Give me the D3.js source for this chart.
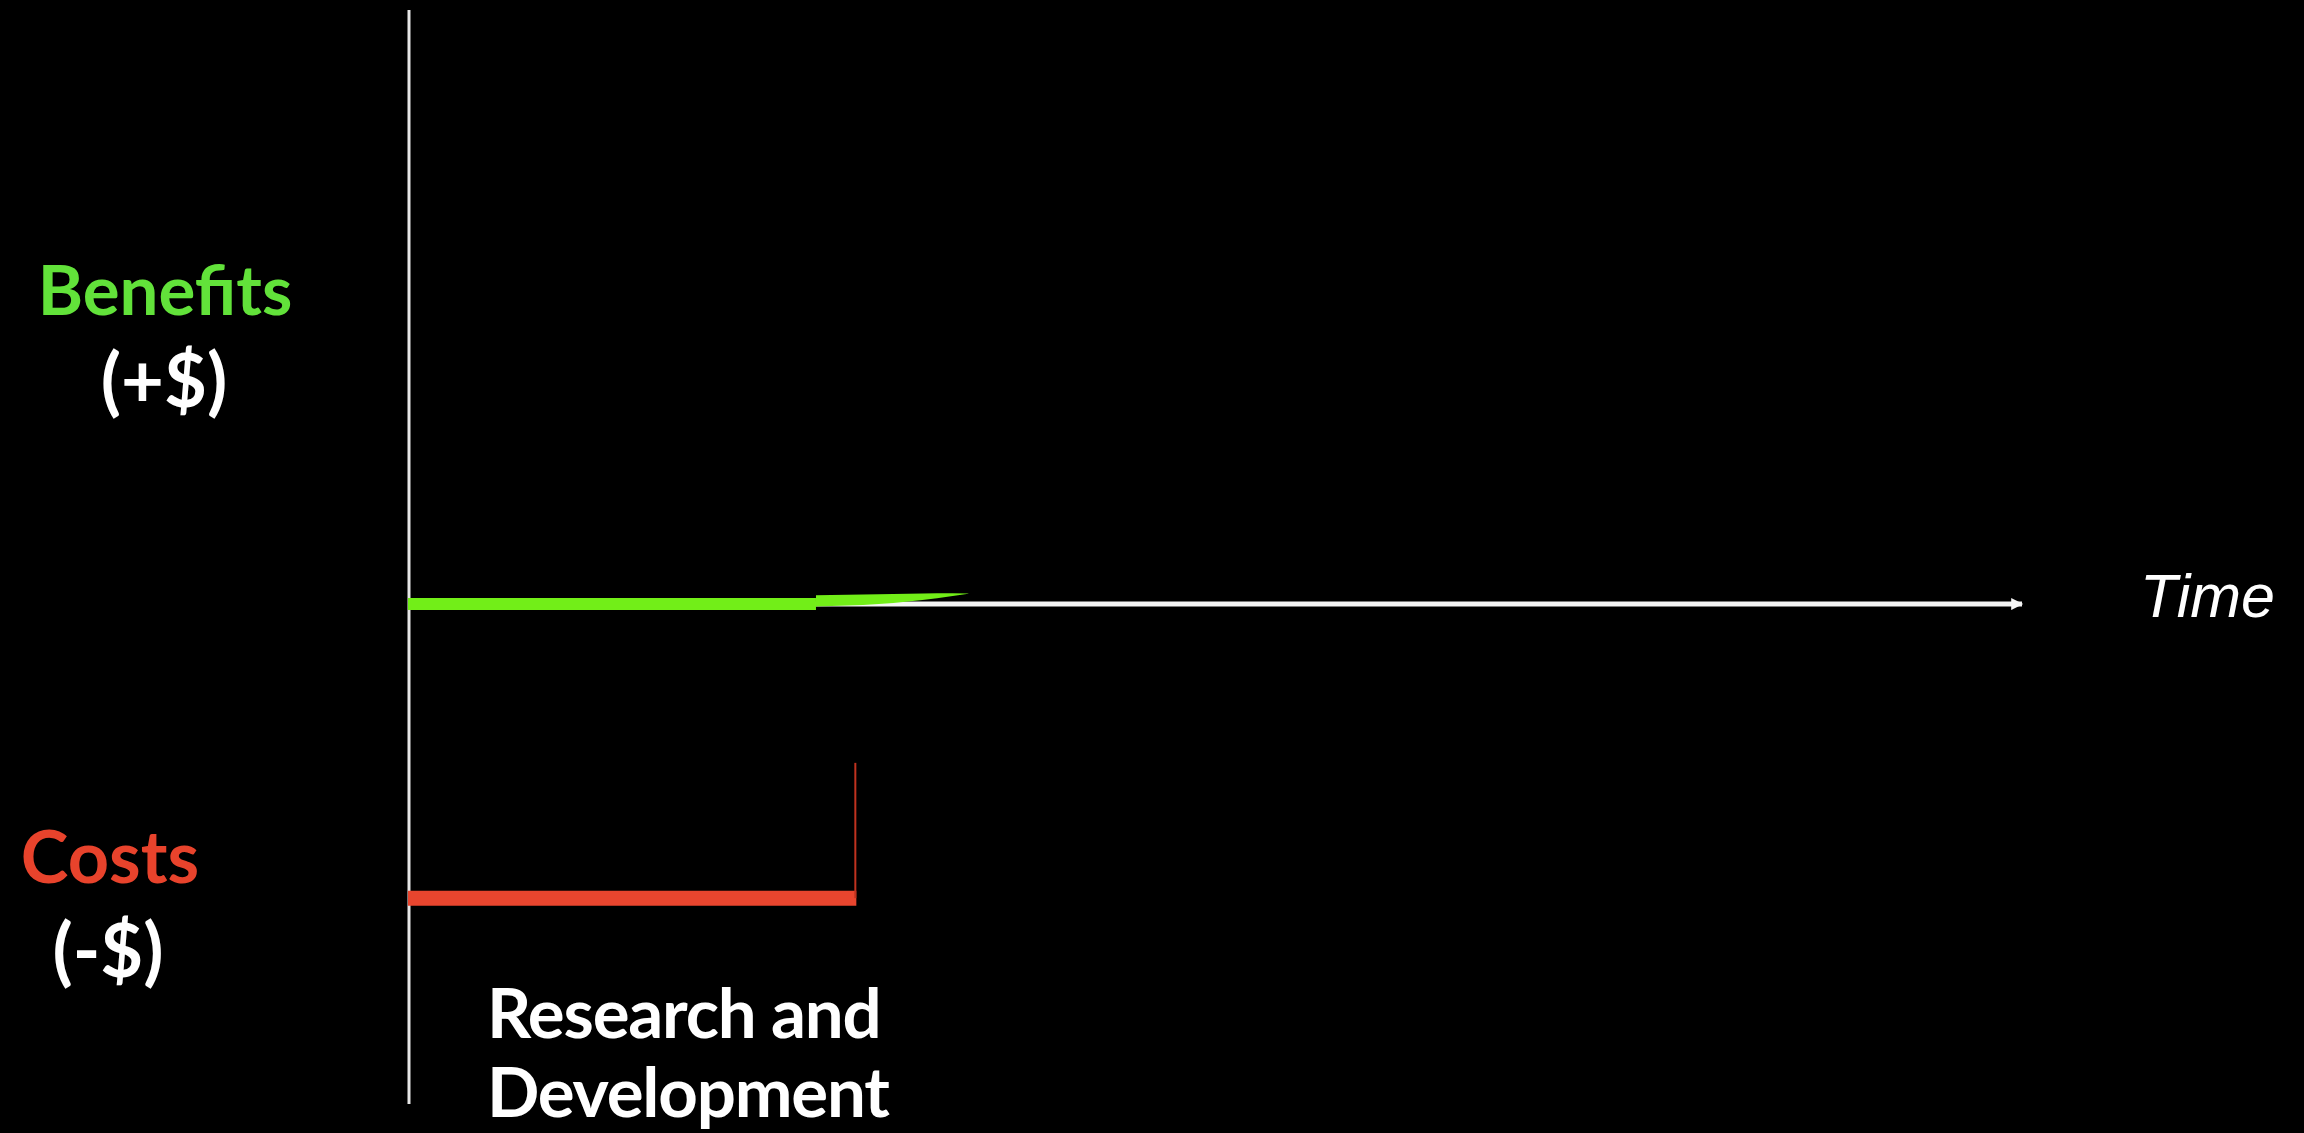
<!DOCTYPE html>
<meta charset="utf-8">
<script src="https://d3js.org/d3.v7.min.js"></script>
<style>
  html, body { margin: 0; padding: 0; background: #000; overflow: hidden; }
</style>
<div id="chart"></div>
<script>
// time runs 0..36 along the x axis, money from -1.7 to +2 on the y axis
var timeDomain = [0, 36];
var moneyDomain = [-1.7, 2.02];

// benefits so far: flat at zero, then the first sliver of growth
var benefitTime = [0, 9.1];
var benefitValue = [0, 0];
var benefitSliverTime = [9.1, 10.5, 11.8, 12.5];
var benefitSliverTop = [0.030, 0.033, 0.037, 0.036];
var benefitSliverBottom = [-0.008, 0.0, 0.02, 0.035];

// R&D costs: a constant spend until year 10
var costTime = [0, 10];
var costValue = [-1, -1];
var costEdgeValue = [-1, -0.54];

var sideLabels = ["Benefits", "(+$)", "Costs", "(-$)"];
var phaseLabels = ["Research and", "Development"];
var axisLabel = "Time";

var width = 2304, height = 1133;

var svg = d3.select("#chart").append("svg")
    .attr("width", width)
    .attr("height", height)
    .style("background", "#000");

var x = d3.scaleLinear().domain(timeDomain).range([408, 2022]);
var y = d3.scaleLinear().domain(moneyDomain).range([1104, 10]);

// arrow head for the time axis
svg.append("defs").append("marker")
    .attr("id", "arrow")
    .attr("viewBox", "0 0 10 10")
    .attr("refX", 9).attr("refY", 5)
    .attr("markerWidth", 3.4).attr("markerHeight", 2.4)
    .attr("markerUnits", "strokeWidth")
    .attr("orient", "auto")
  .append("path")
    .attr("d", "M0,0 L10,5 L0,10 Z")
    .attr("fill", "#f4f4f4");

// vertical axis
svg.append("line")
    .attr("x1", x(0) + 1).attr("x2", x(0) + 1)
    .attr("y1", y(moneyDomain[1])).attr("y2", y(moneyDomain[0]))
    .attr("stroke", "#e6e6e6")
    .attr("stroke-width", 3);

// time axis
svg.append("line")
    .attr("x1", x(0)).attr("x2", x(timeDomain[1]))
    .attr("y1", y(0)).attr("y2", y(0))
    .attr("stroke", "#f4f4f4")
    .attr("stroke-width", 5)
    .attr("marker-end", "url(#arrow)");

var line = d3.line()
    .x(function(d) { return x(d[0]); })
    .y(function(d) { return y(d[1]); });

// benefits
svg.append("path")
    .datum(d3.zip(benefitTime, benefitValue))
    .attr("d", line)
    .attr("stroke", "#72ee18")
    .attr("stroke-width", 12)
    .attr("fill", "none");

var sliver = d3.area()
    .x(function(d) { return x(d[0]); })
    .y0(function(d) { return y(d[2]); })
    .y1(function(d) { return y(d[1]); })
    .curve(d3.curveMonotoneX);
svg.append("path")
    .datum(d3.zip(benefitSliverTime, benefitSliverTop, benefitSliverBottom))
    .attr("d", sliver)
    .attr("fill", "#72ee18");

// costs
svg.append("path")
    .datum(d3.zip(costTime, costValue))
    .attr("d", line)
    .attr("stroke", "#e8452e")
    .attr("stroke-width", 15)
    .attr("fill", "none");

svg.append("line")
    .attr("x1", x(costTime[1]) - 1).attr("x2", x(costTime[1]) - 1)
    .attr("y1", y(costEdgeValue[0])).attr("y2", y(costEdgeValue[1]))
    .attr("stroke", "#c0321f")
    .attr("stroke-width", 2);

function label(txt, px, py, color) {
  return svg.append("text").text(txt)
      .attr("x", px).attr("y", py)
      .attr("text-anchor", "middle")
      .style("font-family", "Lato, 'Open Sans', sans-serif")
      .style("font-weight", 700)
      .style("font-size", "70px")
      .style("fill", color);
}

// labels on the left
label(sideLabels[0], 165, 315, "#62e23a").style("font-size", "69px");
label(sideLabels[1], 164, 407, "#ffffff").style("font-size", "74px");
label(sideLabels[2], 110, 883, "#e8432c").style("font-size", "72px");
label(sideLabels[3], 108, 977, "#ffffff").style("font-size", "74px");

// phase label under the costs
svg.selectAll(".phase")
    .data(phaseLabels)
    .enter().append("text")
    .attr("class", "phase")
    .attr("x", 487)
    .attr("y", function(d, i) { return 1038 + i * 79; })
    .style("font-family", "Lato, 'Open Sans', sans-serif")
    .style("font-weight", 700)
    .style("font-size", "69px")
    .style("letter-spacing", "-1.2px")
    .style("fill", "#ffffff")
    .text(function(d) { return d; });

// axis name
svg.append("text").text(axisLabel)
    .attr("x", 2140).attr("y", 617)
    .style("font-family", "'Liberation Sans', Arial, sans-serif")
    .style("font-style", "italic")
    .style("font-weight", 400)
    .style("font-size", "61px")
    .style("fill", "#ffffff");
</script>
